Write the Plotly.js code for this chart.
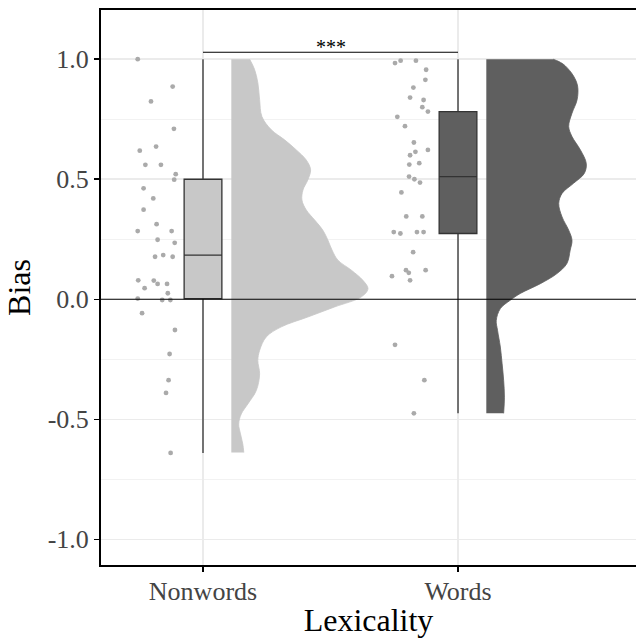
<!DOCTYPE html>
<html>
<head>
<meta charset="utf-8">
<script src="https://cdn.plot.ly/plotly-3.0.1.min.js"></script>
<style>html,body{margin:0;padding:0;background:#fff;}#chart{width:636px;height:638px;}</style>
</head>
<body>
<div id="chart"></div>
<script>
// ---- categories ----
var categories = ['Nonwords', 'Words'];
var yTickVals = [-1, -0.5, 0, 0.5, 1];
var yTickText = ['-1.0', '-0.5', '0.0', '0.5', '1.0'];
var yMinorVals = [-0.75, -0.25, 0.25, 0.75];

// ---- raw points (Bias) and horizontal jitter ----
var nonwordsBias = [1.0, 0.886, 0.824, 0.71, 0.636, 0.619, 0.56, 0.56, 0.521, 0.498, 0.462, 0.42, 0.373, 0.313, 0.284, 0.284, 0.248, 0.235, 0.177, 0.184, 0.177, 0.079, 0.078, 0.064, 0.064, 0.046, 0.025, 0.003, -0.003, -0.003, -0.058, -0.128, -0.228, -0.337, -0.39, -0.64];
var nonwordsJitter = [-0.256, -0.119, -0.204, -0.114, -0.184, -0.248, -0.226, -0.165, -0.107, -0.113, -0.233, -0.195, -0.233, -0.182, -0.256, -0.123, -0.178, -0.111, -0.188, -0.156, -0.119, -0.254, -0.193, -0.178, -0.141, -0.229, -0.138, -0.256, -0.160, -0.128, -0.239, -0.110, -0.131, -0.135, -0.145, -0.127];

var wordsBias = [0.984, 0.994, 0.994, 0.956, 0.914, 0.882, 0.84, 0.83, 0.80, 0.782, 0.76, 0.721, 0.653, 0.614, 0.622, 0.6, 0.561, 0.567, 0.511, 0.5, 0.486, 0.445, 0.345, 0.345, 0.28, 0.274, 0.28, 0.28, 0.196, 0.121, 0.11, 0.121, 0.096, 0.079, -0.19, -0.337, -0.475];
var wordsJitter = [-0.247, -0.225, -0.165, -0.125, -0.128, -0.175, -0.188, -0.135, -0.140, -0.118, -0.238, -0.208, -0.173, -0.167, -0.118, -0.188, -0.191, -0.152, -0.192, -0.171, -0.149, -0.222, -0.203, -0.140, -0.252, -0.226, -0.161, -0.135, -0.176, -0.204, -0.193, -0.127, -0.259, -0.188, -0.247, -0.132, -0.173];

// ---- box statistics ----
var boxLower  = [-0.64, -0.475];
var boxQ1     = [0.003, 0.274];
var boxMedian = [0.184, 0.511];
var boxQ3     = [0.5, 0.782];
var boxUpper  = [1.0, 1.0];

// ---- half-violin densities (Bias level, half-width) ----
var nonwordsDensY = [1.0, 0.958, 0.902, 0.831, 0.761, 0.706, 0.664, 0.622, 0.58, 0.539, 0.497, 0.455, 0.413, 0.372, 0.33, 0.288, 0.246, 0.205, 0.163, 0.121, 0.079, 0.044, 0.01, -0.032, -0.074, -0.115, -0.157, -0.213, -0.255, -0.311, -0.38, -0.436, -0.478, -0.52, -0.561, -0.603, -0.638];
var nonwordsDensW = [0.072, 0.091, 0.104, 0.111, 0.120, 0.157, 0.209, 0.255, 0.294, 0.311, 0.300, 0.281, 0.277, 0.294, 0.327, 0.359, 0.379, 0.395, 0.418, 0.471, 0.516, 0.536, 0.510, 0.405, 0.300, 0.196, 0.137, 0.111, 0.104, 0.111, 0.098, 0.065, 0.039, 0.029, 0.036, 0.045, 0.049];
var wordsDensY = [1.0, 0.99, 0.972, 0.93, 0.888, 0.831, 0.775, 0.72, 0.678, 0.622, 0.566, 0.524, 0.483, 0.441, 0.399, 0.343, 0.288, 0.246, 0.205, 0.149, 0.107, 0.065, 0.024, -0.004, -0.039, -0.088, -0.129, -0.199, -0.269, -0.338, -0.408, -0.475];
var wordsDensW = [0.262, 0.285, 0.310, 0.342, 0.358, 0.356, 0.336, 0.323, 0.336, 0.369, 0.392, 0.384, 0.342, 0.297, 0.284, 0.297, 0.323, 0.336, 0.329, 0.316, 0.277, 0.212, 0.133, 0.094, 0.055, 0.039, 0.044, 0.055, 0.062, 0.068, 0.071, 0.068];

// ---- significance ----
var sigPair = [1, 2];
var sigY = 1.029;
var sigLabel = '***';

// ---- styling ----
var fills = ['#c8c8c8', '#5f5f5f'];
var violinOffset = 0.111;
var boxWidth = 0.148;
var FONT = 'Liberation Serif, Times New Roman, serif';

function violinTraces(pos, dy, dw, color) {
  var base = pos + violinOffset;
  var baseTrace = {type: 'scatter', mode: 'lines', x: [base, base], y: [dy[0], dy[dy.length - 1]],
    line: {width: 0, color: color}, hoverinfo: 'skip', showlegend: false};
  var xs = [], ys = [];
  for (var i = 0; i < dy.length; i++) { xs.push(base + dw[i]); ys.push(dy[i]); }
  var outline = {type: 'scatter', mode: 'lines', x: xs, y: ys, fill: 'tonextx', fillcolor: color,
    line: {color: color, width: 0.8, shape: 'spline', smoothing: 1}, hoverinfo: 'skip', showlegend: false};
  return [baseTrace, outline];
}

var traces = [];
traces = traces.concat(violinTraces(1, nonwordsDensY, nonwordsDensW, fills[0]));
traces = traces.concat(violinTraces(2, wordsDensY, wordsDensW, fills[1]));

[[nonwordsBias, nonwordsJitter, 1], [wordsBias, wordsJitter, 2]].forEach(function (s) {
  traces.push({type: 'scatter', mode: 'markers',
    x: s[1].map(function (j) { return s[2] + j; }), y: s[0],
    marker: {size: 4.8, color: '#aaaaaa'}, showlegend: false, hoverinfo: 'skip'});
});

for (var k = 0; k < categories.length; k++) {
  traces.push({type: 'box', x: [k + 1], q1: [boxQ1[k]], median: [boxMedian[k]], q3: [boxQ3[k]],
    lowerfence: [boxLower[k]], upperfence: [boxUpper[k]], width: boxWidth, whiskerwidth: 0,
    fillcolor: fills[k], line: {color: '#333333', width: 1.3}, boxpoints: false, showlegend: false,
    hoverinfo: 'skip'});
}

traces.push({type: 'scatter', mode: 'lines', x: sigPair, y: [sigY, sigY],
  line: {color: '#000', width: 1.1}, showlegend: false, hoverinfo: 'skip'});

var layout = {
  width: 636, height: 638,
  margin: {l: 101, r: 0, t: 10, b: 73},
  paper_bgcolor: '#fff', plot_bgcolor: '#fff',
  boxmode: 'overlay',
  showlegend: false,
  font: {family: FONT, color: '#000'},
  xaxis: {
    range: [0.6, 2.698], tickmode: 'array', tickvals: [1, 2], ticktext: categories,
    showgrid: true, gridcolor: '#ebebeb', gridwidth: 1.5, zeroline: false,
    showline: true, linecolor: '#000', linewidth: 2, mirror: true,
    ticks: 'outside', ticklen: 5, tickwidth: 1.5, tickcolor: '#000',
    ticklabelstandoff: -3,
    tickfont: {family: FONT, size: 26, color: '#444444'},
    title: {text: 'Lexicality', font: {family: FONT, size: 32, color: '#000'}, standoff: 6}
  },
  yaxis: {
    range: [-1.107, 1.205], tickmode: 'array', tickvals: yTickVals, ticktext: yTickText,
    showgrid: true, gridcolor: '#ebebeb', gridwidth: 1.5, zeroline: false,
    minor: {tickmode: 'array', tickvals: yMinorVals, showgrid: true, gridcolor: '#f2f2f2', gridwidth: 1.2, ticks: ''},
    showline: true, linecolor: '#000', linewidth: 2,
    ticks: 'outside', ticklen: 5, tickwidth: 1.5, tickcolor: '#000',
    tickfont: {family: FONT, size: 26, color: '#444444'},
    title: {text: 'Bias', font: {family: FONT, size: 32, color: '#000'}, standoff: 7}
  },
  shapes: [{type: 'line', xref: 'paper', x0: 0, x1: 1, yref: 'y', y0: 0, y1: 0,
            line: {color: '#000', width: 1.1}, layer: 'above'}],
  annotations: [{x: (sigPair[0] + sigPair[1]) / 2, y: sigY, xref: 'x', yref: 'y', text: sigLabel,
    showarrow: false, yanchor: 'bottom', yshift: -8, font: {family: FONT, size: 20, color: '#000'}}]
};

Plotly.newPlot('chart', traces, layout, {staticPlot: true, displayModeBar: false});
</script>
</body>
</html>
